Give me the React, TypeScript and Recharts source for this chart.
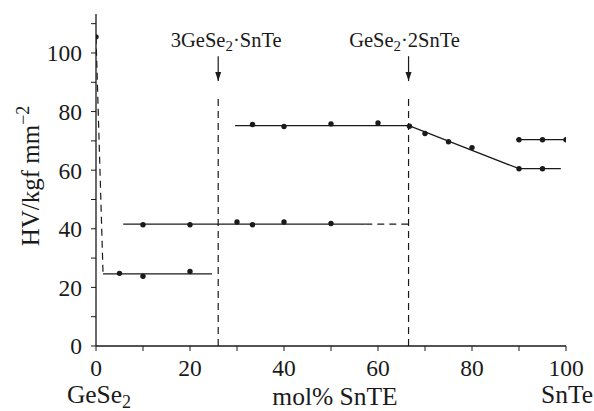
import React from "react";
import {
  ComposedChart,
  Line,
  Scatter,
  XAxis,
  YAxis,
  ReferenceLine,
} from "recharts";

// measured points (mol% SnTe, HV)
const gese2X = [0];
const gese2Y = [105.5];
const lowX = [5, 10, 20];
const lowY = [24.8, 23.8, 25.4];
const midX = [10, 20, 30, 33.3, 40, 50];
const midY = [41.4, 41.4, 42.3, 41.4, 42.3, 41.8];
const highX = [33.3, 40, 50, 60, 66.7, 70, 75, 80, 90, 95];
const highY = [75.6, 74.9, 75.8, 76.1, 75, 72.5, 69.7, 67.7, 60.5, 60.5];
const snteX = [90, 95, 100];
const snteY = [70.4, 70.4, 70.4];

// drawn guide lines
const dropX = [0, 1.5];
const dropY = [105.5, 24.6];
const lowLineX = [1.5, 24.7];
const lowLineY = [24.6, 24.6];
const midLineX = [5.8, 57.3];
const midLineY = [41.6, 41.6];
const midDashX = [57.3, 66.5];
const midDashY = [41.6, 41.6];
const highLineX = [29.6, 66.6, 90, 98.9];
const highLineY = [75.2, 75.2, 60.5, 60.5];
const snteLineX = [89.4, 100];
const snteLineY = [70.4, 70.4];

// compounds marked with arrows
const compoundX = [26, 66.5];
const compoundPre = ["3GeSe", "GeSe"];
const compoundPost = ["·SnTe", "·2SnTe"];
const markerTop = 86;
const arrowFrom = 98.9;
const arrowTo = 90.4;

const yTicks = [0, 10, 20, 30, 40, 50, 60, 70, 80, 90, 100, 110];
const xTicks = [0, 10, 20, 30, 40, 50, 60, 70, 80, 90, 100];

const zip = (xs: number[], ys: number[]) => xs.map((x, i) => ({ x, y: ys[i] }));

const font = "Liberation Serif, Times New Roman, serif";
const ink = "#1a1a1a";

const Dot = (props: any) => <circle cx={props.cx} cy={props.cy} r={2.7} fill={ink} />;

const arrowLabel = (i: number, dx: number) => (props: any) => {
  const { x, y, height } = props.viewBox;
  const tip = y + height;
  return (
    <g>
      <polygon points={`${x},${tip} ${x - 3},${tip - 9} ${x + 3},${tip - 9}`} fill={ink} />
      <text x={x + dx} y={y - 9} textAnchor="middle" fontFamily={font} fontSize={20.5} fill={ink}>
        {compoundPre[i]}
        <tspan fontSize={15} dy={4}>2</tspan>
        <tspan dy={-4}>{compoundPost[i]}</tspan>
      </text>
    </g>
  );
};

const BottomLabels = (props: any) => {
  const { x, y, width } = props.viewBox;
  return (
    <g fontFamily={font} fill={ink} fontSize={25.5}>
      <text x={x + 3} y={y + 57} textAnchor="middle">
        GeSe<tspan fontSize={18} dy={5}>2</tspan>
      </text>
      <text x={x + width / 2 + 4} y={y + 59} textAnchor="middle">
        mol% SnTE
      </text>
      <text x={x + width + 1} y={y + 57} textAnchor="middle">
        SnTe
      </text>
    </g>
  );
};

const YLabel = (props: any) => {
  const { x, y, height } = props.viewBox;
  const cx = x + 39;
  const cy = y + height / 2 - 4;
  return (
    <text
      x={cx}
      y={cy}
      transform={`rotate(-90 ${cx} ${cy})`}
      textAnchor="middle"
      fontFamily={font}
      fontSize={25}
      fill={ink}
    >
      HV/kgf mm<tspan fontSize={18} dy={-10}>−2</tspan>
    </text>
  );
};

const tickStyle = { fill: ink, fontSize: 23.5, fontFamily: font };
const evenOnly = (v: number) => (v % 20 === 0 ? String(v) : "");

export default function App() {
  return (
    <div style={{ position: "absolute", left: 0, top: 0, background: "#fff" }}>
      <ComposedChart width={594} height={411} margin={{ top: 14, right: 28, bottom: 0, left: 0 }}>
        <XAxis
          dataKey="x"
          type="number"
          domain={[0, 100]}
          ticks={xTicks}
          tickFormatter={evenOnly}
          interval={0}
          height={65}
          tickSize={5}
          tickMargin={8}
          tick={tickStyle}
          axisLine={{ stroke: ink, strokeWidth: 1.3 }}
          tickLine={{ stroke: ink }}
          allowDataOverflow
          label={<BottomLabels />}
        />
        <XAxis
          xAxisId="top"
          orientation="top"
          type="number"
          domain={[0, 100]}
          height={0}
          tick={false}
          tickLine={false}
          axisLine={{ stroke: "#777", strokeWidth: 1.3 }}
        />
        <YAxis
          type="number"
          domain={[0, 113.3]}
          ticks={yTicks}
          tickFormatter={evenOnly}
          interval={0}
          width={96}
          tickSize={5}
          tickMargin={9}
          tick={tickStyle}
          axisLine={{ stroke: ink, strokeWidth: 1.3 }}
          tickLine={{ stroke: ink }}
          allowDataOverflow
          label={<YLabel />}
        />
        <YAxis
          yAxisId="right"
          orientation="right"
          width={0}
          tick={false}
          tickLine={false}
          axisLine={{ stroke: "#777", strokeWidth: 1.3 }}
        />

        {compoundX.map((cx) => (
          <ReferenceLine
            key={"v" + cx}
            segment={[{ x: cx, y: 0 }, { x: cx, y: markerTop }]}
            stroke={ink}
            strokeWidth={1.2}
            strokeDasharray="7 5"
          />
        ))}
        {compoundX.map((cx, i) => (
          <ReferenceLine
            key={"a" + cx}
            segment={[{ x: cx, y: arrowTo }, { x: cx, y: arrowFrom }]}
            stroke={ink}
            strokeWidth={1.2}
            label={arrowLabel(i, i === 0 ? 8 : -4)}
          />
        ))}

        <Line data={zip(dropX, dropY)} dataKey="y" stroke={ink} strokeWidth={1.2} strokeDasharray="7 5" dot={false} isAnimationActive={false} />
        <Line data={zip(lowLineX, lowLineY)} dataKey="y" stroke={ink} strokeWidth={1.3} dot={false} isAnimationActive={false} />
        <Line data={zip(midLineX, midLineY)} dataKey="y" stroke={ink} strokeWidth={1.3} dot={false} isAnimationActive={false} />
        <Line data={zip(midDashX, midDashY)} dataKey="y" stroke={ink} strokeWidth={1.2} strokeDasharray="7 5" dot={false} isAnimationActive={false} />
        <Line data={zip(highLineX, highLineY)} dataKey="y" stroke={ink} strokeWidth={1.3} dot={false} isAnimationActive={false} />
        <Line data={zip(snteLineX, snteLineY)} dataKey="y" stroke={ink} strokeWidth={1.3} dot={false} isAnimationActive={false} />

        <Scatter data={zip(gese2X, gese2Y)} dataKey="y" shape={<Dot />} isAnimationActive={false} />
        <Scatter data={zip(lowX, lowY)} dataKey="y" shape={<Dot />} isAnimationActive={false} />
        <Scatter data={zip(midX, midY)} dataKey="y" shape={<Dot />} isAnimationActive={false} />
        <Scatter data={zip(highX, highY)} dataKey="y" shape={<Dot />} isAnimationActive={false} />
        <Scatter data={zip(snteX, snteY)} dataKey="y" shape={<Dot />} isAnimationActive={false} />
      </ComposedChart>
    </div>
  );
}
